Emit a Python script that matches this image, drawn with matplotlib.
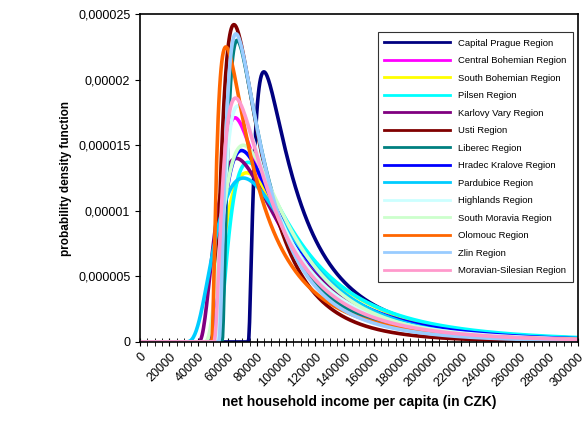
import numpy as np
import matplotlib
matplotlib.use("Agg")
import matplotlib.pyplot as plt
from matplotlib.ticker import FuncFormatter, MultipleLocator

plt.rcParams["font.family"] = ["Liberation Sans", "DejaVu Sans"]

# where each curve leaves zero, where it peaks, peak height
regiones = ["Capital Prague Region", "Central Bohemian Region", "South Bohemian Region",
            "Pilsen Region", "Karlovy Vary Region", "Usti Region", "Liberec Region",
            "Hradec Kralove Region", "Pardubice Region", "Highlands Region",
            "South Moravia Region", "Olomouc Region", "Zlin Region", "Moravian-Silesian Region"]
colores = ["#000080", "#FF00FF", "#FFFF00", "#00FFFF", "#800080", "#800000", "#008080",
           "#0000FF", "#00CCFF", "#CCFFFF", "#CCFFCC", "#FF6600", "#99CCFF", "#FF99CC"]
inicio = [74000, 50000, 45000, 52000, 38800, 49000, 55900,
          47000, 28500, 52000, 43000, 49000, 53600, 50200]
moda = [84800, 65000, 73000, 74000, 66000, 64300, 66500,
        69500, 70700, 67000, 70700, 58800, 65700, 65400]
altura = [2.06e-5, 1.71e-5, 1.29e-5, 1.37e-5, 1.40e-5, 2.42e-5, 2.30e-5,
          1.46e-5, 1.25e-5, 1.80e-5, 1.50e-5, 2.25e-5, 2.35e-5, 1.86e-5]


def sigma_desde_pico(d, f):
    objetivo = 1.0 / (d * f * np.sqrt(2 * np.pi))
    lo, hi = 1e-4, 5.0
    for _ in range(100):
        mid = (lo + hi) / 2
        if mid * np.exp(mid ** 2 / 2) < objetivo:
            lo = mid
        else:
            hi = mid
    return (lo + hi) / 2


def densidad(x, c, mo, f):
    d = mo - c
    s = sigma_desde_pico(d, f)
    m = np.log(d) + s ** 2
    y = np.zeros_like(x)
    z = x > c
    xc = x[z] - c
    y[z] = np.exp(-(np.log(xc) - m) ** 2 / (2 * s ** 2)) / (xc * s * np.sqrt(2 * np.pi))
    return y


def fmt_y(v, p):
    if abs(v) < 1e-12:
        return "0"
    return f"{v:.6f}".rstrip("0").replace(".", ",")


x = np.arange(0, 300001, 500, dtype=float)

fig = plt.figure(figsize=(5.87, 4.28), dpi=100)
ax = fig.add_axes([0.2385, 0.201, 0.7465, 0.766])
for nombre, col, c, mo, f in zip(regiones, colores, inicio, moda, altura):
    ax.plot(x, densidad(x, c, mo, f), color=col, lw=2.6, label=nombre)

ax.set_xlim(0, 300000)
ax.set_ylim(0, 0.000025)
ax.xaxis.set_major_locator(MultipleLocator(20000))
ax.xaxis.set_minor_locator(MultipleLocator(5000))
ax.yaxis.set_major_locator(MultipleLocator(0.000005))
ax.yaxis.set_major_formatter(FuncFormatter(fmt_y))
ax.tick_params(axis="x", which="both", direction="inout", length=6, labelsize=9)
ax.tick_params(axis="y", direction="out", labelsize=9)
plt.setp(ax.get_xticklabels(), rotation=45, ha="right", rotation_mode="anchor")
for s in ax.spines.values():
    s.set_linewidth(1.2)
ax.set_xlabel("net household income per capita (in CZK)", fontweight="bold", fontsize=10)
ax.set_ylabel("probability density function", fontweight="bold", fontsize=8.5)

leg = ax.legend(loc="upper right", bbox_to_anchor=(0.999, 0.96), fontsize=6.8, handlelength=7,
                frameon=True, fancybox=False, edgecolor="black", labelspacing=0.9,
                borderpad=0.7)
leg.get_frame().set_linewidth(0.8)
for l in leg.get_lines():
    l.set_linewidth(2)

fig.savefig("out.png", dpi=100)
